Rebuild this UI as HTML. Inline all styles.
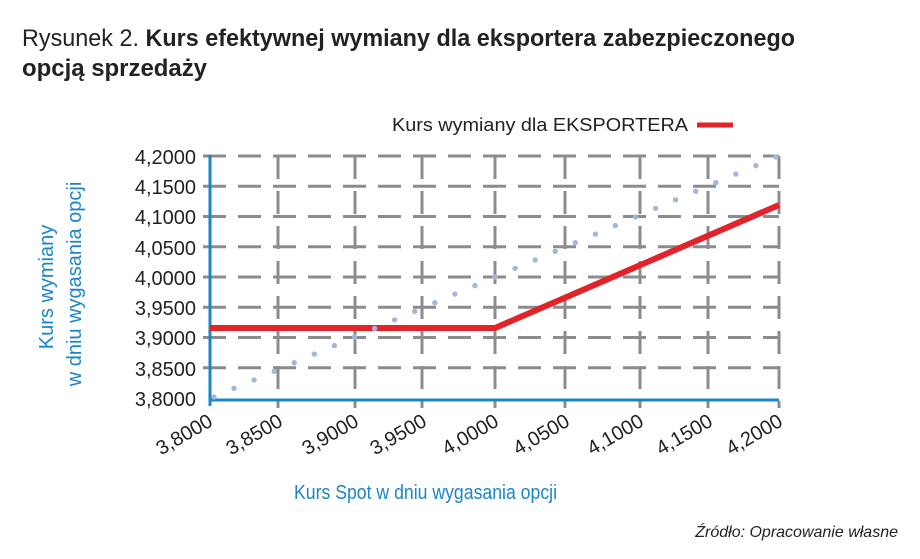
<!DOCTYPE html>
<html><head><meta charset="utf-8"><style>
html,body{margin:0;padding:0;background:#fff;}
svg{display:block;}
text{font-family:"Liberation Sans","DejaVu Sans",sans-serif;}
</style></head><body>
<svg width="920" height="559" viewBox="0 0 920 559" xmlns="http://www.w3.org/2000/svg">
<text x="22" y="46" font-size="24" fill="#222" textLength="773" lengthAdjust="spacingAndGlyphs"><tspan font-weight="300">Rysunek 2. </tspan><tspan font-weight="bold">Kurs efektywnej wymiany dla eksportera zabezpieczonego</tspan></text>
<text x="22" y="76" font-size="24" font-weight="bold" fill="#222" textLength="185" lengthAdjust="spacingAndGlyphs">opcją sprzedaży</text>
<text x="392" y="131" font-size="18" fill="#222" textLength="296" lengthAdjust="spacingAndGlyphs">Kurs wymiany dla EKSPORTERA</text>
<line x1="697" y1="125" x2="733" y2="125" stroke="#e3232a" stroke-width="5"/>
<g stroke="#8c8c8c" stroke-width="3" stroke-dasharray="23,12" fill="none">
<line x1="203" y1="156" x2="779" y2="156"/>
<line x1="203" y1="186.3" x2="779" y2="186.3"/>
<line x1="203" y1="216.5" x2="779" y2="216.5"/>
<line x1="203" y1="246.8" x2="779" y2="246.8"/>
<line x1="203" y1="277" x2="779" y2="277"/>
<line x1="203" y1="307.3" x2="779" y2="307.3"/>
<line x1="203" y1="337.5" x2="779" y2="337.5"/>
<line x1="203" y1="367.8" x2="779" y2="367.8"/>
<line x1="278" y1="156" x2="278" y2="408"/>
<line x1="355" y1="156" x2="355" y2="408"/>
<line x1="422" y1="156" x2="422" y2="408"/>
<line x1="495" y1="156" x2="495" y2="408"/>
<line x1="565" y1="156" x2="565" y2="408"/>
<line x1="640" y1="156" x2="640" y2="408"/>
<line x1="708" y1="156" x2="708" y2="408"/>
<line x1="779" y1="156" x2="779" y2="408"/>
</g>
<line x1="209" y1="400" x2="779" y2="400" stroke="#1a85c8" stroke-width="3"/>
<line x1="210" y1="155" x2="210" y2="406" stroke="#1a85c8" stroke-width="3"/>
<g fill="#a6b6da" id="dots"></g>
<polyline points="210,328 495,328 779,205" fill="none" stroke="#e3232a" stroke-width="6"/>
<g font-size="20" fill="#222" text-anchor="end">
<text x="196" y="164">4,2000</text>
<text x="196" y="194">4,1500</text>
<text x="196" y="224">4,1000</text>
<text x="196" y="255">4,0500</text>
<text x="196" y="285">4,0000</text>
<text x="196" y="315">3,9500</text>
<text x="196" y="345">3,9000</text>
<text x="196" y="376">3,8500</text>
<text x="196" y="406">3,8000</text>
</g>
<g font-size="20" fill="#222" text-anchor="end">
<text transform="translate(214,425) rotate(-30)">3,8000</text>
<text transform="translate(284,425) rotate(-30)">3,8500</text>
<text transform="translate(360,425) rotate(-30)">3,9000</text>
<text transform="translate(428,425) rotate(-30)">3,9500</text>
<text transform="translate(500,425) rotate(-30)">4,0000</text>
<text transform="translate(571,425) rotate(-30)">4,0500</text>
<text transform="translate(645,425) rotate(-30)">4,1000</text>
<text transform="translate(714,425) rotate(-30)">4,1500</text>
<text transform="translate(784,425) rotate(-30)">4,2000</text>
</g>
<g font-size="20" fill="#1a85c8" text-anchor="middle">
<text transform="translate(53,287) rotate(-90)">Kurs wymiany</text>
<text transform="translate(81,284) rotate(-90)">w dniu wygasania opcji</text>
</g>
<text x="294" y="499" font-size="20" fill="#1a85c8" textLength="263" lengthAdjust="spacingAndGlyphs">Kurs Spot w dniu wygasania opcji</text>
<text x="898" y="537" font-size="16" font-style="italic" fill="#222" text-anchor="end">Źródło:  Opracowanie  własne</text>
<g fill="#a6b6da">
<circle cx="214" cy="397" r="2.7"/><circle cx="234" cy="388.4" r="2.7"/><circle cx="254.1" cy="379.9" r="2.7"/><circle cx="274.2" cy="371.3" r="2.7"/><circle cx="294.3" cy="362.7" r="2.7"/><circle cx="314.4" cy="354.1" r="2.7"/><circle cx="334.4" cy="345.6" r="2.7"/><circle cx="354.5" cy="337" r="2.7"/><circle cx="374.6" cy="328.4" r="2.7"/><circle cx="394.6" cy="319.9" r="2.7"/><circle cx="414.7" cy="311.3" r="2.7"/><circle cx="434.8" cy="302.7" r="2.7"/><circle cx="454.9" cy="294.1" r="2.7"/><circle cx="474.9" cy="285.6" r="2.7"/><circle cx="495" cy="277" r="2.7"/><circle cx="515.1" cy="268.4" r="2.7"/><circle cx="535.1" cy="259.9" r="2.7"/><circle cx="555.2" cy="251.3" r="2.7"/><circle cx="575.3" cy="242.7" r="2.7"/><circle cx="595.4" cy="234.1" r="2.7"/><circle cx="615.4" cy="225.6" r="2.7"/><circle cx="635.5" cy="217" r="2.7"/><circle cx="655.6" cy="208.4" r="2.7"/><circle cx="675.6" cy="199.9" r="2.7"/><circle cx="695.7" cy="191.3" r="2.7"/><circle cx="715.8" cy="182.7" r="2.7"/><circle cx="735.9" cy="174.1" r="2.7"/><circle cx="755.9" cy="165.6" r="2.7"/><circle cx="776" cy="157" r="2.7"/>
</g>
</svg>
</body></html>
